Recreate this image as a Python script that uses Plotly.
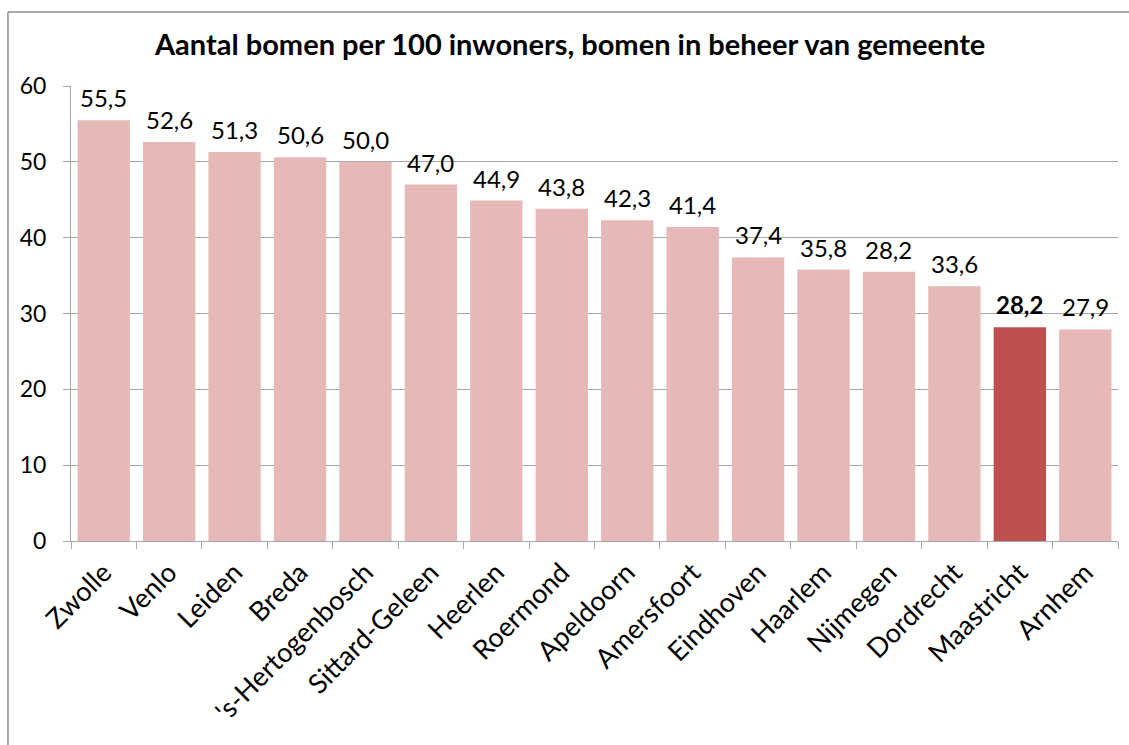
import plotly.graph_objects as go

cities = ["Zwolle", "Venlo", "Leiden", "Breda", "'s-Hertogenbosch", "Sittard-Geleen",
          "Heerlen", "Roermond", "Apeldoorn", "Amersfoort", "Eindhoven", "Haarlem",
          "Nijmegen", "Dordrecht", "Maastricht", "Arnhem"]
values = [55.5, 52.6, 51.3, 50.6, 50.0, 47.0, 44.9, 43.8, 42.3, 41.4, 37.4, 35.8,
          35.5, 33.6, 28.2, 27.9]
labels = ["55,5", "52,6", "51,3", "50,6", "50,0", "47,0", "44,9", "43,8", "42,3", "41,4",
          "37,4", "35,8", "28,2", "33,6", "28,2", "27,9"]
highlight = "Maastricht"
y_ticks = [0, 10, 20, 30, 40, 50, 60]

FONT = "Lato"
colors = ["#C0504D" if c == highlight else "#E6B9B8" for c in cities]

fig = go.Figure(go.Bar(
    x=cities, y=values, marker=dict(color=colors, line=dict(width=0)),
    hoverinfo="x+y",
))

for c, v, t in zip(cities, values, labels):
    fig.add_annotation(x=c, y=v, text=f"<b>{t}</b>" if c == highlight else t,
                       showarrow=False, xanchor="center", yanchor="bottom", yshift=6,
                       font=dict(family=FONT, size=24, color="#000000"))

fig.update_layout(
    width=1129, height=745,
    margin=dict(l=71, r=11, t=86, b=204),
    paper_bgcolor="white", plot_bgcolor="white",
    bargap=0.2,
    showlegend=False,
    title=dict(text="<b>Aantal bomen per 100 inwoners, bomen in beheer van gemeente</b>",
               x=0.505, xanchor="center", y=0.94, yanchor="middle",
               font=dict(family=FONT, size=29, color="#000000")),
    font=dict(family=FONT, color="#000000"),
)
fig.update_yaxes(range=[0, 60], tickvals=y_ticks, showgrid=True, gridcolor="#A6A6A6",
                 gridwidth=1, showline=True, linecolor="#A6A6A6", linewidth=1,
                 ticks="outside", ticklen=7, tickcolor="#A6A6A6", ticklabelstandoff=12,
                 tickfont=dict(family=FONT, size=23, color="#000000"), zeroline=False)
fig.update_xaxes(tickangle=-45, showline=True, linecolor="#A6A6A6", linewidth=1,
                 ticks="outside", ticklen=7, tickcolor="#A6A6A6", tickson="boundaries",
                 ticklabelstandoff=4,
                 tickfont=dict(family=FONT, size=27, color="#000000"))

# outer chart frame (top and left edges visible)
fig.add_shape(type="line", xref="paper", yref="paper", x0=-0.0602, x1=1.02, y0=1.1626, y1=1.1626,
              line=dict(color="#8C8C8C", width=1.5))
fig.add_shape(type="line", xref="paper", yref="paper", x0=-0.0602, x1=-0.0602, y0=1.1626, y1=-0.46,
              line=dict(color="#8C8C8C", width=1.5))

fig.write_html("out.html", config={"displayModeBar": False},
               post_script="document.body.style.margin='0';")
